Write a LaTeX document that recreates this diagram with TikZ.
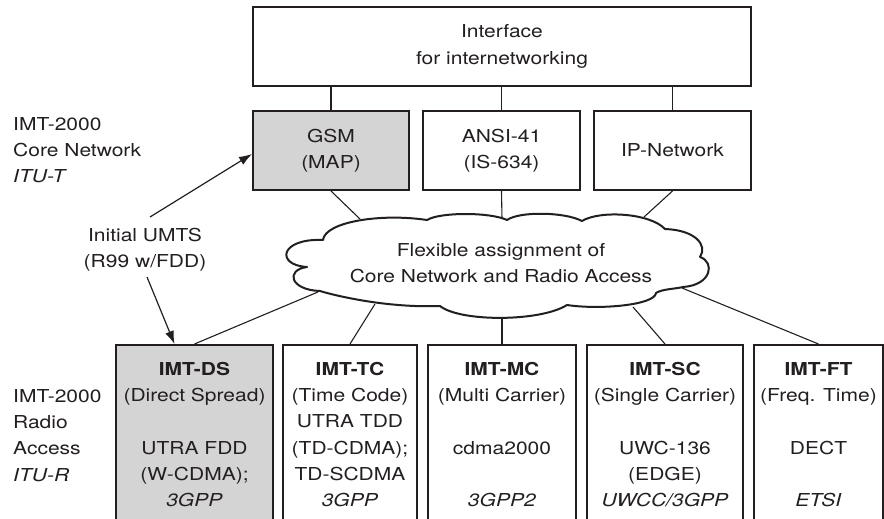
\documentclass[tikz,border=0pt]{standalone}
\usepackage{fontspec}
\setmainfont[FakeStretch=1.18]{TeX Gyre Heros}
\usetikzlibrary{arrows.meta}
\definecolor{ink}{RGB}{35,31,32}
\definecolor{boxgray}{RGB}{212,212,212}
\begin{document}
\begin{tikzpicture}[x=1pt,y=-1pt,
  font=\fontsize{17.8}{26.3}\selectfont, color=ink,
  box/.style={draw=ink, line width=2pt, rectangle, inner sep=0pt, align=center},
  link/.style={draw=ink, line width=1.1pt},
  arr/.style={draw=ink, line width=1.2pt, -{Latex[length=13pt,width=9pt]}},
  lbl/.style={inner sep=0pt, align=center, anchor=north},
  lbll/.style={inner sep=0pt, align=left, anchor=north west}]
\useasboundingbox (0,0) rectangle (884,519);
\clip (0,0) rectangle (884,519);
\fill[white] (0,0) rectangle (884,519);

% core network boxes
\node[box, minimum width=498pt, minimum height=79pt] (iface) at (502,46.5) {Interface\\for internetworking};
\node[box, fill=boxgray, minimum width=156pt, minimum height=79pt] (gsm) at (331,150.5) {GSM\\(MAP)};
\node[box, minimum width=157pt, minimum height=79pt] (ansi) at (501.5,150.5) {ANSI-41\\(IS-634)};
\node[box, minimum width=157pt, minimum height=79pt] (ip) at (672.5,150.5) {IP-Network};

\draw[link] (gsm.north) -- (gsm.north |- iface.south);
\draw[link] (ansi.north) -- (ansi.north |- iface.south);
\draw[link] (ip.north) -- (ip.north |- iface.south);

% radio access boxes
\node[box, fill=boxgray, minimum width=157pt, minimum height=200pt, anchor=north] (ds) at (194.5,344) {};
\node[box, minimum width=134pt, minimum height=200pt, anchor=north] (tc) at (350,344) {};
\node[box, minimum width=148pt, minimum height=200pt, anchor=north] (mc) at (502,344) {};
\node[box, minimum width=156pt, minimum height=200pt, anchor=north] (sc) at (665,344) {};
\node[box, minimum width=129pt, minimum height=200pt, anchor=north] (ft) at (818.5,344) {};

\node[lbl] (tds) at (194.5,360) {\rule{0pt}{15pt}\textbf{IMT-DS}\\(Direct Spread)\\\mbox{}\\UTRA FDD\\(W-CDMA);\\\textit{3GPP}};
\node[lbl] (ttc) at (350,360) {\rule{0pt}{15pt}\textbf{IMT-TC}\\(Time Code)\\UTRA TDD\\(TD-CDMA);\\TD-SCDMA\\\textit{3GPP}};
\node[lbl] (tmc) at (502,360) {\rule{0pt}{15pt}\textbf{IMT-MC}\\(Multi Carrier)\\\mbox{}\\cdma2000\\\mbox{}\\\textit{3GPP2}};
\node[lbl] (tsc) at (665,360) {\rule{0pt}{15pt}\textbf{IMT-SC}\\(Single Carrier)\\\mbox{}\\UWC-136\\(EDGE)\\\textit{UWCC/3GPP}};
\node[lbl] (tft) at (818.5,360) {\rule{0pt}{15pt}\textbf{IMT-FT}\\(Freq. Time)\\\mbox{}\\DECT\\\mbox{}\\\textit{ETSI}};

% cloud attachment points
\coordinate (cgsm) at (360,219);
\coordinate (cansi) at (502,219);
\coordinate (cip) at (644,217);
\coordinate (cds) at (318,292);
\coordinate (ctc) at (375,304);
\coordinate (cmc) at (502,318);
\coordinate (csc) at (633,307);
\coordinate (cft) at (682,288);

\draw[link] (gsm.south) -- (cgsm);
\draw[link] (ansi.south) -- (cansi);
\draw[link] (ip.south) -- (cip);
\draw[link] (cds) -- (ds.north);
\draw[link] (ctc) -- (tc.north);
\draw[link] (cmc) -- (mc.north);
\draw[link] (csc) -- (sc.north);
\draw[link] (cft) -- (ft.north);

% cloud
\draw[line width=2pt, fill=white, line join=round]
  (323,240) .. controls (325,222) and (380,213) .. (427,220)
  .. controls (440,212) and (490,212) .. (507,220)
  .. controls (520,211) and (565,212) .. (582,221)
  .. controls (600,210) and (650,213) .. (665,229)
  .. controls (695,230) and (708,245) .. (700,257)
  .. controls (715,262) and (712,285) .. (683,287)
  .. controls (675,289) and (662,289) .. (656,293)
  .. controls (655,305) and (600,310) .. (567,305)
  .. controls (540,322) and (460,322) .. (440,306)
  .. controls (390,308) and (340,297) .. (320,291)
  .. controls (290,290) and (285,270) .. (307,267)
  .. controls (275,265) and (280,238) .. cycle;
\node[lbl] (ctext) at (501,241) {\rule{0pt}{15pt}Flexible assignment of\\Core Network and Radio Access};

% side labels
\node[lbll] (core) at (13,115) {\rule{0pt}{15pt}IMT-2000\\Core Network\\\textit{ITU-T}};
\node[lbll] (radio) at (13,387) {\rule{0pt}{15pt}IMT-2000\\Radio\\Access\\\textit{ITU-R}};
\node[lbl] (umts) at (145,226) {\rule{0pt}{15pt}Initial UMTS\\(R99 w/FDD)};

\draw[arr] ([shift={(5,-9)}]umts.north) -- ([yshift=-3.5pt]gsm.west);
\draw[arr] ([shift={(2,51)}]umts.north) -- ([xshift=-20pt]ds.north);
\end{tikzpicture}
\end{document}
